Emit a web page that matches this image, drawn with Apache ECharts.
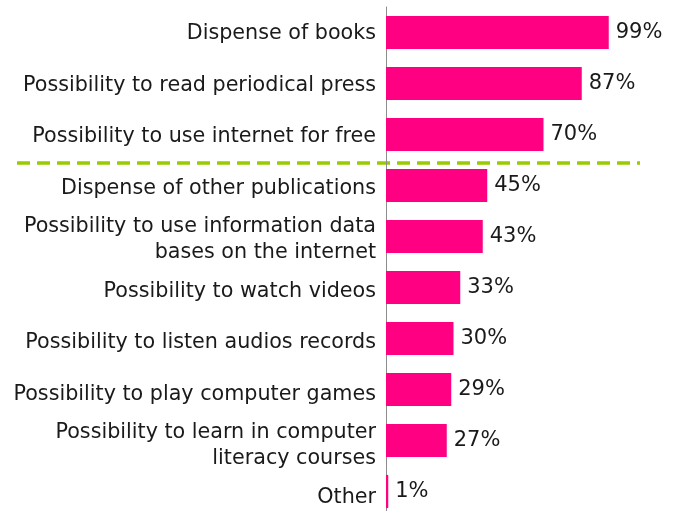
<!DOCTYPE html>
<html>
<head>
<meta charset="utf-8">
<script src="https://cdn.jsdelivr.net/npm/echarts@6/dist/echarts.min.js"></script>
<style>
html,body{margin:0;padding:0;background:#fff;overflow:hidden;width:679px;height:511px;}
#main{width:679px;height:530px;}
</style>
</head>
<body>
<div id="main"></div>
<script>
var categories = [
  "Dispense of books",
  "Possibility to read periodical press",
  "Possibility to use internet for free",
  "Dispense of other publications",
  "Possibility to use information data\nbases on the internet",
  "Possibility to watch videos",
  "Possibility to listen audios records",
  "Possibility to play computer games",
  "Possibility to learn in computer\nliteracy courses",
  "Other"
];
var values = [99, 87, 70, 45, 43, 33, 30, 29, 27, 1];
var separatorAfterIndex = 2;

var chart = echarts.init(document.getElementById('main'));
var font = 'DejaVu Sans';
chart.setOption({
  animation: false,
  grid: [
    {left: 386, top: 7, width: 225, height: 510, containLabel: false},
    {left: 386, top: 8, width: 225, height: 515, containLabel: false}
  ],
  xAxis: [
    {type: 'value', min: 0, max: 100, show: false, gridIndex: 0},
    {type: 'value', min: 0, max: 100, show: false, gridIndex: 1}
  ],
  yAxis: [
    {
      type: 'category', data: categories, inverse: true, gridIndex: 0,
      axisLine: {show: true, lineStyle: {color: '#8c8c8c', width: 1}},
      axisTick: {show: false},
      axisLabel: {show: false}
    },
    {
      type: 'category', data: categories, inverse: true, gridIndex: 1,
      axisLine: {show: false},
      axisTick: {show: false},
      axisLabel: {color: '#1a1a1a', fontFamily: font, fontSize: 20.7, margin: 10, lineHeight: 26, align: 'right', hideOverlap: false}
    }
  ],
  series: [{
    type: 'bar', data: values, barCategoryGap: '35%', xAxisIndex: 0, yAxisIndex: 0,
    itemStyle: {color: '#FF0083'},
    label: {show: true, position: 'right', distance: 7, formatter: '{c}%', color: '#1a1a1a', fontFamily: font, fontSize: 21}
  }]
});
var yA = chart.convertToPixel({yAxisIndex: 0}, separatorAfterIndex);
var yB = chart.convertToPixel({yAxisIndex: 0}, separatorAfterIndex + 1);
var ySep = Math.round((yA + yB) / 2) + 3;
chart.setOption({
  graphic: [{
    type: 'line', silent: true,
    shape: {x1: 17, y1: ySep, x2: 640, y2: ySep},
    style: {stroke: '#99CC00', lineWidth: 3.5, lineDash: [13, 7]}
  }]
});
</script>
</body>
</html>
